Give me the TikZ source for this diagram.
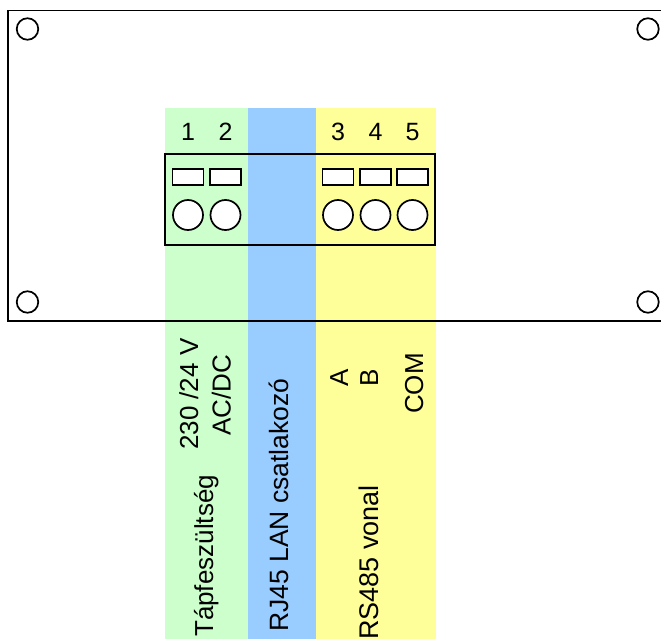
\documentclass[tikz,border=0pt]{standalone}
\usepackage{fontspec}
\setmainfont{Liberation Sans}
\definecolor{bgreen}{HTML}{CCFFCC}
\definecolor{bblue}{HTML}{99CCFF}
\definecolor{byellow}{HTML}{FFFF99}
\tikzset{
  band/.style={draw=none,minimum height=531pt,anchor=north west,inner sep=0pt,outer sep=0pt},
  hole/.style={circle,draw=black,fill=white,line width=1.7pt,minimum size=#1,inner sep=0pt},
  slot/.style={rectangle,draw=black,fill=white,line width=1.7pt,minimum width=31pt,minimum height=16pt,inner sep=0pt},
  num/.style={font=\fontsize{25}{25}\selectfont,inner sep=0pt,text=black},
  vtext/.style={font=\fontsize{26}{26}\selectfont,rotate=90,inner sep=0pt,text=black,anchor=base west},
  edge/.style={draw=black,line width=1.9pt}
}
\begin{document}
\begin{tikzpicture}[x=1pt,y=-1pt]
\useasboundingbox (0,0) rectangle (661,639);
\clip (0,0) rectangle (661,639);
\node[band,fill=bgreen,minimum width=83pt] (green) at (165,108) {};
\node[band,fill=bblue,minimum width=68pt] (blue) at (248,108) {};
\node[band,fill=byellow,minimum width=120pt] (yellow) at (316,108) {};
\coordinate (pnw) at (8,10.5);
\coordinate (pne) at (662,10.5);
\coordinate (psw) at (8,321);
\coordinate (pse) at (662,321);
\draw[edge] (pne) -- (pnw) -- (psw) -- (pse);
\node[edge,outer sep=0pt,minimum width=270pt,minimum height=91pt,inner sep=0pt,anchor=north west] (conn) at (165,154) {};
\foreach \n/\x/\y in {a/27.5/29,b/648/29,c/27.5/302,d/648/302}
  \node[hole=21.5pt] (m\n) at (\x,\y) {};
\foreach \n/\x in {1/188,2/225.5,3/338,4/375.5,5/412.5}{
  \node[slot] (s\n) at (\x,177) {};
  \node[hole=30pt] (h\n) at (\x,215) {};
  \node[num] (t\n) at (\x,132) {\n};
}
\node[vtext] (t230) at (198,450) {230 /24 V};
\node[vtext] (tac) at (230.5,436) {AC/DC};
\node[vtext] (ttap) at (213,637) {Tápfeszültség};
\node[vtext,font=\fontsize{26.5}{26.5}\selectfont] (trj) at (288,632) {RJ45 LAN csatlakozó};
\node[vtext] (ta) at (348,386.5) {A};
\node[vtext] (tb) at (378,387) {B};
\node[vtext] (tcom) at (423,414) {COM};
\node[vtext,font=\fontsize{27}{27}\selectfont] (trs) at (378,640) {RS485 vonal};
\end{tikzpicture}
\end{document}
